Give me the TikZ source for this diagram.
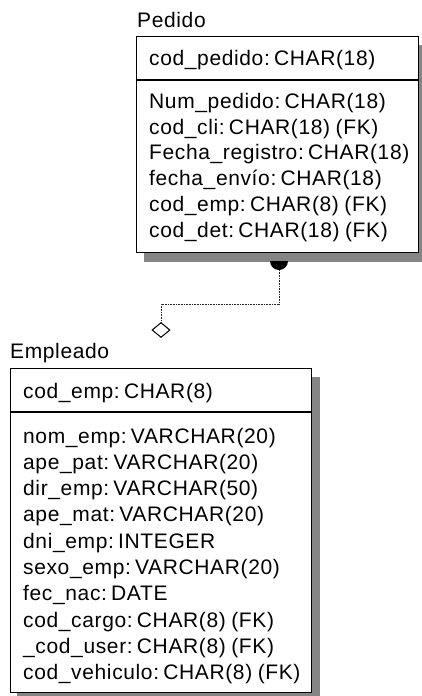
\documentclass[tikz,border=0pt]{standalone}
\usepackage{fontspec}
\setmainfont{Liberation Sans}[LetterSpace=3.0,WordSpace=0.85]
\usetikzlibrary{shapes.geometric}
\newcommand{\csep}{\hspace{0.2em}}
\begin{document}
\begin{tikzpicture}[x=1pt,y=-1pt,
  txt/.style={anchor=base west,inner sep=0pt,font=\fontsize{21}{25}\selectfont},
  entbox/.style={draw,line width=1.3pt,fill=white,anchor=north west,inner sep=0pt},
  shadowfill/.style={fill=black!48},
  divline/.style={line width=1.1pt},
  relline/.style={line width=0.8pt,black!85,dash pattern=on 1pt off 0.6pt}]
\useasboundingbox (0,0) rectangle (422,696);
% ---------- Pedido ----------
\node[entbox,minimum width=282pt,minimum height=216pt,draw=none,fill=none] (ped) at (136,36) {};
\fill[shadowfill] ([xshift=7.5pt,yshift=-9pt]ped.north west) rectangle ([xshift=7.5pt,yshift=-9pt]ped.south east);
\node[entbox,minimum width=282pt,minimum height=216pt] (pedbox) at (136,36) {};
\draw[divline] (pedbox.west |- 0,80) -- (pedbox.east |- 0,80);
\node[txt] (pedt) at (137,27.5) {Pedido};
\node[txt] (p0) at (149,65) {cod\_pedido:\csep CHAR(18)};
\node[txt] (p1) at (149,108.5) {Num\_pedido:\csep CHAR(18)};
\node[txt] (p2) at (149,134.2) {cod\_cli:\csep CHAR(18) (FK)};
\node[txt] (p3) at (149,159.9) {Fecha\_registro:\csep CHAR(18)};
\node[txt] (p4) at (149,185.6) {fecha\_envío:\csep CHAR(18)};
\node[txt] (p5) at (149,211.3) {cod\_emp:\csep CHAR(8) (FK)};
\node[txt] (p6) at (149,237) {cod\_det:\csep CHAR(18) (FK)};
% ---------- Empleado ----------
\node[entbox,minimum width=301.5pt,minimum height=324pt,draw=none,fill=none] (emp) at (9.5,368) {};
\fill[shadowfill] ([xshift=7.5pt,yshift=-9pt]emp.north west) rectangle ([xshift=7.5pt,yshift=-9pt]emp.south east);
\node[entbox,minimum width=301.5pt,minimum height=324pt] (empbox) at (9.5,368) {};
\draw[divline] (empbox.west |- 0,412) -- (empbox.east |- 0,412);
\node[txt] (empt) at (10,358.3) {Empleado};
\node[txt] (e0) at (23,398) {cod\_emp:\csep CHAR(8)};
\node[txt] (e1) at (23,443) {nom\_emp:\csep VARCHAR(20)};
\node[txt] (e2) at (23,469.3) {ape\_pat:\csep VARCHAR(20)};
\node[txt] (e3) at (23,495.6) {dir\_emp:\csep VARCHAR(50)};
\node[txt] (e4) at (23,521.9) {ape\_mat:\csep VARCHAR(20)};
\node[txt] (e5) at (23,548.2) {dni\_emp:\csep INTEGER};
\node[txt] (e6) at (23,574.5) {sexo\_emp:\csep VARCHAR(20)};
\node[txt] (e7) at (23,600.8) {fec\_nac:\csep DATE};
\node[txt] (e8) at (23,627.1) {cod\_cargo:\csep CHAR(8) (FK)};
\node[txt] (e9) at (23,653.4) {\_cod\_user:\csep CHAR(8) (FK)};
\node[txt] (e10) at (23,679.7) {cod\_vehiculo:\csep CHAR(8) (FK)};
% ---------- relationship ----------
\coordinate (dotc) at (279,261);
\coordinate (bend1) at (279,304);
\coordinate (bend2) at (161,304);
\node[diamond,draw,line width=1pt,fill=white,minimum width=18pt,minimum height=15pt,inner sep=0pt] (dia) at (161,330) {};
\fill[black] ([xshift=-9pt]dotc) arc[start angle=180,end angle=360,radius=9pt] -- cycle;
\draw[relline] ([yshift=-9pt]dotc) -- (bend1) -- (bend2) -- (dia.north);
\end{tikzpicture}
\end{document}
